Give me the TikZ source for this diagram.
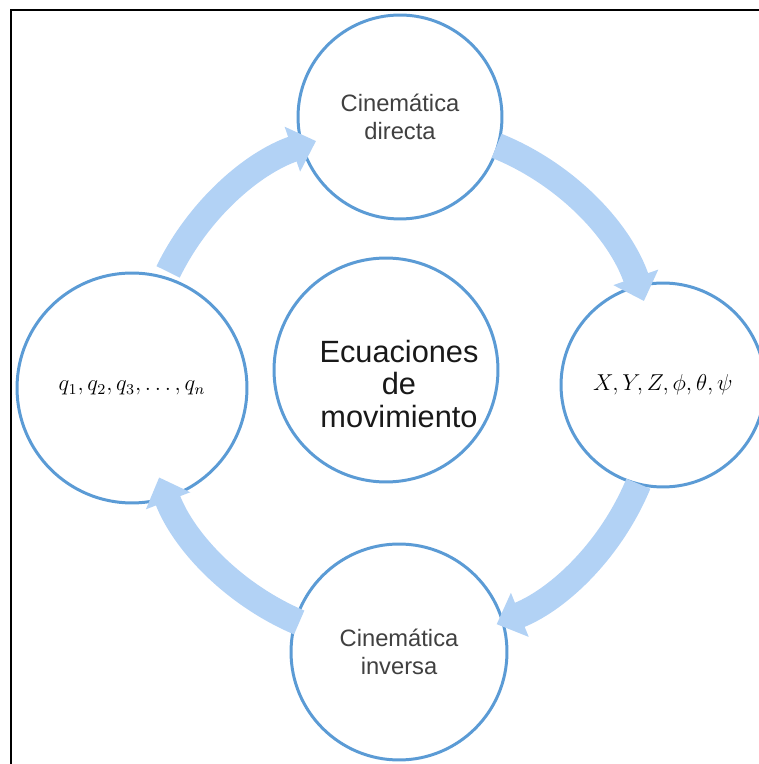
\documentclass[tikz,border=0pt]{standalone}
\usepackage{fontspec}
\setmainfont{Liberation Sans}
\usepackage{amsmath}
\usepackage{graphicx}
\usetikzlibrary{arrows.meta}
\definecolor{ringblue}{RGB}{91,155,213}
\definecolor{flowblue}{RGB}{178,210,245}
\definecolor{txtgray}{RGB}{64,64,64}

\begin{document}
\begin{tikzpicture}[x=0.02cm,y=0.02cm,
  stage/.style={draw=ringblue, line width=1.7pt, circle, fill=white, inner sep=0pt, align=center},
  small/.style={font=\fontsize{13.5}{15.5}\selectfont, text=txtgray},
  flow/.style={draw=flowblue, line width=0.52cm, -{Triangle[width=0.92cm,length=0.5cm]}}]
\useasboundingbox (0,0) rectangle (759,764);
\clip (0,0) rectangle (759,764);
% Frame
\draw[line width=1.5pt] (11,0) -- (11,754) -- (759,754);
% Stages
\node[stage, small, minimum size=4.08cm] (dir) at (400,647) {Cinemática\\directa};
\node[stage, minimum size=4.6cm, font=\fontsize{12}{14}\selectfont] (qs) at (132,376) {\scalebox{1.075}{$q_1,q_2,q_3,\ldots,q_n$}};
\node[stage, minimum size=4.08cm, font=\fontsize{12}{14}\selectfont] (pose) at (663,379) {\scalebox{1.09}{$X,Y,Z,\phi,\theta,\psi$}};
\node[stage, small, minimum size=4.32cm] (inv) at (399,112) {Cinemática\\inversa};
% Center
\node[stage, minimum size=4.48cm] (ec) at (386,394) {};
\node[font=\fontsize{17.5}{18.5}\selectfont, align=center, text=black!90] (ectext) at (399,380) {Ecuaciones\\de\\movimiento};
% Cycle arrows around the ring center
\coordinate (o) at (400,379);
\foreach \s/\e in {68/19,-22.5/-68,-113/-159,154/109} {
  \draw[flow] ([shift={(\s:258)}]o) arc (\s:\e:258);
}
\end{tikzpicture}
\end{document}
